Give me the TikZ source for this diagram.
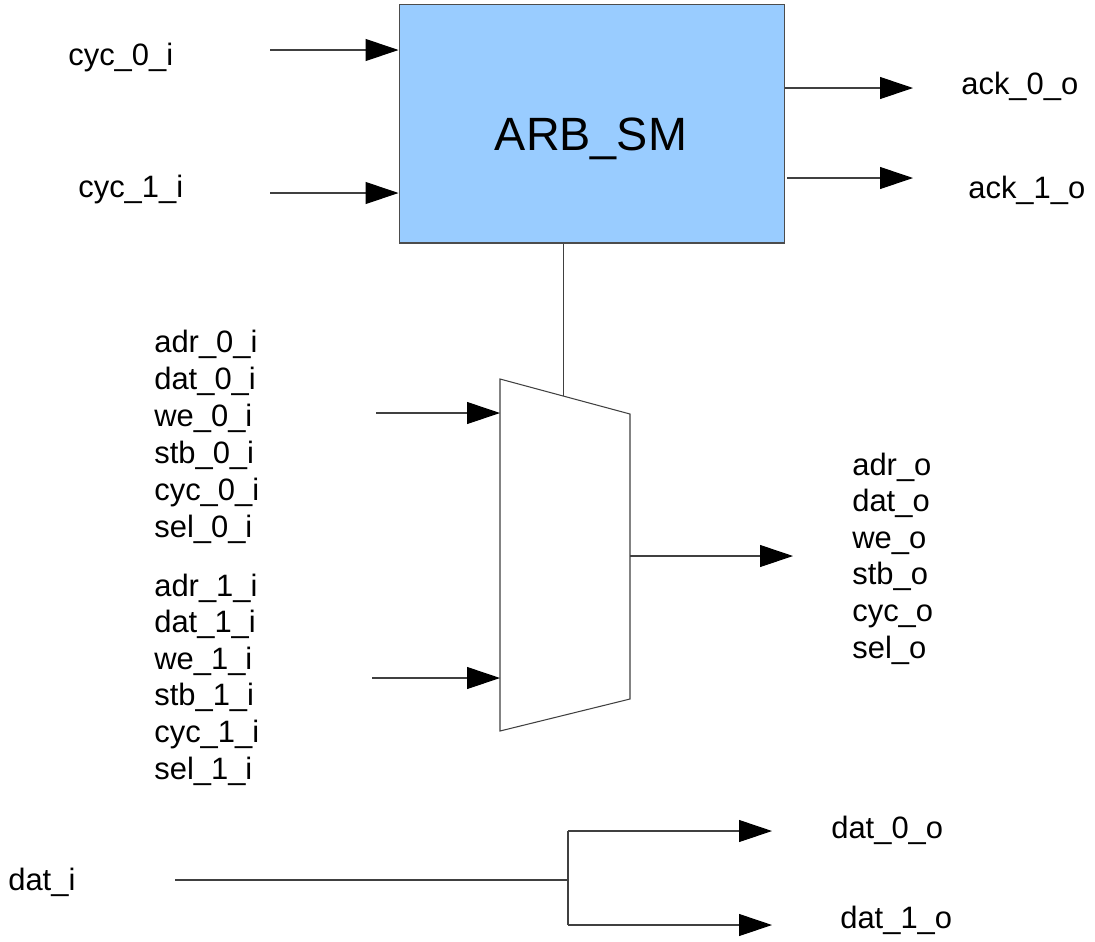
\documentclass[tikz,border=0pt]{standalone}
\usepackage{fontspec}
\setmainfont{Liberation Sans}
\usepackage{xcolor}
\usetikzlibrary{arrows.meta,positioning,calc}
\definecolor{arbblue}{HTML}{99CCFF}

\begin{document}
\begin{tikzpicture}[
    x=0.02cm, y=-0.02cm,
    wire/.style = {draw=black!75, line width=0.6pt},
    sig/.style = {wire, -{Triangle[length=0.66cm, width=0.44cm, black]}},
    lbl/.style = {anchor=base west, inner sep=0pt, font=\fontsize{17.6}{21}\selectfont},
    block/.style = {draw=black!70, fill=arbblue, line width=0.6pt, inner sep=0pt}
]
    \useasboundingbox (0,0) rectangle (1095,941);

    % arbiter state machine
    \node[block, minimum width=7.72cm, minimum height=4.78cm] (arb) at (592,123.5) {};
    \node[anchor=base, inner sep=0pt, font=\fontsize{26.6}{30}\selectfont] (arbname) at (591,150) {ARB\_SM};

    \node[lbl] (cyc0) at (68,65) {cyc\_0\_i};
    \node[lbl] (cyc1) at (78,197) {cyc\_1\_i};
    \node[lbl] (ack0) at (961,94) {ack\_0\_o};
    \node[lbl] (ack1) at (968,198) {ack\_1\_o};

    \coordinate (c0) at (270,50);
    \coordinate (c1) at (270,193);
    \coordinate (a0) at (785,88);
    \coordinate (a1) at (787,178);
    \draw[sig] (c0) -- (c0 -| arb.west);
    \draw[sig] (c1) -- (c1 -| arb.west);
    \draw[sig] (a0) -- (913,88);
    \draw[sig] (a1) -- (913,178);

    % mux
    \coordinate (mtl) at (500,379);
    \coordinate (mtr) at (630,414);
    \coordinate (mbr) at (630,699);
    \coordinate (mbl) at (500,731);
    \draw[wire] (mtl) -- (mtr) -- (mbr) -- (mbl) -- cycle;
    \coordinate (msel) at ($(mtl)!0.485!(mtr)$);
    \draw[wire] (arb.south -| msel) -- (msel);

    \coordinate (src0) at (376,413);
    \coordinate (src1) at (372,678);
    \coordinate (mout) at (630,556);
    \coordinate (dst) at (793,556);
    \draw[sig] (src0) -- (src0 -| mtl);
    \draw[sig] (src1) -- (src1 -| mtl);
    \draw[sig] (mout) -- (dst);

    \foreach \name [count=\k from 0] in {adr,dat,we,stb,cyc,sel}
        \node[lbl] (in0\name) at (154,352+37*\k) {\name\_0\_i};
    \foreach \name [count=\k from 0] in {adr,dat,we,stb,cyc,sel}
        \node[lbl] (in1\name) at (154,596+36.6*\k) {\name\_1\_i};
    \foreach \name [count=\k from 0] in {adr,dat,we,stb,cyc,sel}
        \node[lbl] (out\name) at (852,475+36.6*\k) {\name\_o};

    % data fan-out
    \node[lbl] (dati) at (8,890) {dat\_i};
    \node[lbl] (dat0) at (831,838) {dat\_0\_o};
    \node[lbl] (dat1) at (840,928) {dat\_1\_o};

    \coordinate (din) at (175,880);
    \coordinate (fork) at (568,880);
    \coordinate (ftop) at (568,831);
    \coordinate (fbot) at (568,925);
    \draw[wire] (din) -- (fork);
    \draw[wire] (ftop) -- (fbot);
    \draw[sig] (ftop) -- (772,831);
    \draw[sig] (fbot) -- (772,925);
\end{tikzpicture}
\end{document}
